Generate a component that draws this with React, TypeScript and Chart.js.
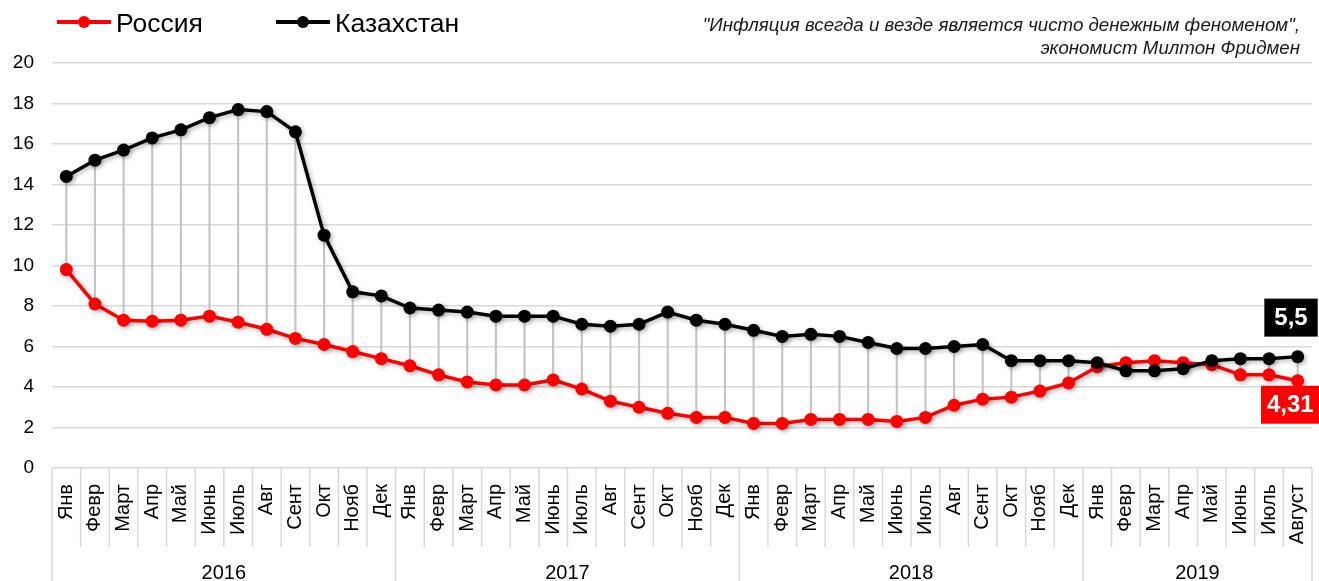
import React, { useEffect, useRef } from "react";
import { Chart, registerables } from "chart.js";

Chart.register(...registerables);

const monthsFull = ["Янв", "Февр", "Март", "Апр", "Май", "Июнь", "Июль", "Авг", "Сент", "Окт", "Нояб", "Дек"];
const months2019 = ["Янв", "Февр", "Март", "Апр", "Май", "Июнь", "Июль", "Август"];
const years = ["2016", "2017", "2018", "2019"];
const yearLengths = [12, 12, 12, 8];
const labels = [...monthsFull, ...monthsFull, ...monthsFull, ...months2019];

const russia = [
  9.8, 8.1, 7.3, 7.25, 7.3, 7.5, 7.2, 6.85, 6.4, 6.1, 5.75, 5.4,
  5.05, 4.6, 4.25, 4.1, 4.1, 4.35, 3.9, 3.3, 3.0, 2.7, 2.5, 2.5,
  2.2, 2.2, 2.4, 2.4, 2.4, 2.3, 2.5, 3.1, 3.4, 3.5, 3.8, 4.2,
  5.0, 5.2, 5.3, 5.2, 5.1, 4.6, 4.6, 4.31,
];
const kazakhstan = [
  14.4, 15.2, 15.7, 16.3, 16.7, 17.3, 17.7, 17.6, 16.6, 11.5, 8.7, 8.5,
  7.9, 7.8, 7.7, 7.5, 7.5, 7.5, 7.1, 7.0, 7.1, 7.7, 7.3, 7.1,
  6.8, 6.5, 6.6, 6.5, 6.2, 5.9, 5.9, 6.0, 6.1, 5.3, 5.3, 5.3,
  5.2, 4.8, 4.8, 4.9, 5.3, 5.4, 5.4, 5.5,
];
const yTicks = [0, 2, 4, 6, 8, 10, 12, 14, 16, 18, 20];
const seriesNames = ["Россия", "Казахстан"];
const quoteLines = [
  "\"Инфляция всегда и везде является чисто денежным феноменом\",",
  "экономист Милтон Фридмен",
];
const lastLabels = ["4,31", "5,5"];

const FONT = "'Liberation Sans', Arial, sans-serif";
const GRID = "#d9d9d9";

const shadowPlugin = {
  id: "shadowPlugin",
  beforeDatasetDraw(chart: any, args: any) {
    const ds = chart.data.datasets[args.index];
    if (ds.type !== "line") return;
    const ctx = chart.ctx;
    ctx.save();
    ctx.shadowColor = "rgba(0,0,0,0.28)";
    ctx.shadowBlur = 4;
    ctx.shadowOffsetX = 2;
    ctx.shadowOffsetY = 2;
  },
  afterDatasetDraw(chart: any, args: any) {
    const ds = chart.data.datasets[args.index];
    if (ds.type !== "line") return;
    chart.ctx.restore();
  },
};

const axisPlugin = {
  id: "axisPlugin",
  afterDraw(chart: any) {
    const ctx = chart.ctx;
    const xs = chart.scales.x;
    const bottom = chart.chartArea.bottom;
    const h = chart.height;
    const step = xs.getPixelForValue(1) - xs.getPixelForValue(0);
    const n = labels.length;
    const yearStarts = new Set<number>();
    let acc = 0;
    yearLengths.forEach((l) => {
      yearStarts.add(acc);
      acc += l;
    });
    yearStarts.add(acc);
    ctx.save();
    ctx.strokeStyle = GRID;
    ctx.lineWidth = 1.5;
    for (let i = 0; i <= n; i++) {
      const x = xs.getPixelForValue(0) - step / 2 + i * step;
      ctx.beginPath();
      ctx.moveTo(x, bottom);
      ctx.lineTo(x, yearStarts.has(i) ? h : bottom + 79);
      ctx.stroke();
    }
    ctx.fillStyle = "#000";
    ctx.font = `20px ${FONT}`;
    ctx.textAlign = "center";
    ctx.textBaseline = "middle";
    let s = 0;
    years.forEach((y, k) => {
      const l = yearLengths[k];
      const x0 = xs.getPixelForValue(s) - step / 2;
      const x1 = xs.getPixelForValue(s + l - 1) + step / 2;
      ctx.fillText(y, (x0 + x1) / 2, bottom + 105);
      s += l;
    });
    ctx.restore();
  },
  afterDatasetsDraw(chart: any) {
    const ctx = chart.ctx;
    const last = labels.length - 1;
    const rPt = chart.getDatasetMeta(1).data[last];
    const kPt = chart.getDatasetMeta(2).data[last];
    ctx.save();
    ctx.font = `bold 24px ${FONT}`;
    ctx.textAlign = "center";
    ctx.textBaseline = "middle";
    {
      const w = ctx.measureText(lastLabels[1]).width + 20;
      const right = kPt.x + 20;
      const bottomY = kPt.y - 20;
      ctx.fillStyle = "#000";
      ctx.fillRect(right - w, bottomY - 38, w, 38);
      ctx.fillStyle = "#fff";
      ctx.fillText(lastLabels[1], right - w / 2, bottomY - 19 + 1);
    }
    {
      const w = ctx.measureText(lastLabels[0]).width + 12;
      const right = rPt.x + 22;
      const topY = rPt.y + 5;
      ctx.fillStyle = "#ff0000";
      ctx.fillRect(right - w, topY, w, 38);
      ctx.fillStyle = "#fff";
      ctx.fillText(lastLabels[0], right - w / 2, topY + 19 + 1);
    }
    ctx.restore();
  },
};

export default function App() {
  const canvasRef = useRef<HTMLCanvasElement | null>(null);

  useEffect(() => {
    document.body.style.margin = "0";
    const canvas = canvasRef.current;
    if (!canvas) return;
    const chart = new Chart(canvas, {
      type: "line",
      data: {
        labels,
        datasets: [
          {
            type: "bar",
            label: "drop",
            data: russia.map((r, i) => [Math.min(r, kazakhstan[i]), Math.max(r, kazakhstan[i])]) as any,
            backgroundColor: "#c4c4c4",
            barThickness: 1.5,
            order: 10,
          } as any,
          {
            type: "line",
            label: seriesNames[0],
            data: russia,
            borderColor: "#ff0000",
            backgroundColor: "#ff0000",
            borderWidth: 3.5,
            pointRadius: 6.5,
            pointBorderWidth: 0,
            pointBackgroundColor: "#ff0000",
            tension: 0,
            order: 2,
          },
          {
            type: "line",
            label: seriesNames[1],
            data: kazakhstan,
            borderColor: "#000",
            backgroundColor: "#000",
            borderWidth: 3.5,
            pointRadius: 6.5,
            pointBorderWidth: 0,
            pointBackgroundColor: "#000",
            tension: 0,
            order: 1,
          },
        ],
      },
      options: {
        animation: false,
        responsive: true,
        maintainAspectRatio: false,
        layout: { padding: { top: 63, right: 7, left: 0, bottom: 0 } },
        plugins: {
          legend: { display: false },
          tooltip: { enabled: false },
        },
        scales: {
          x: {
            type: "category",
            offset: true,
            grid: { display: false },
            border: { display: false },
            ticks: {
              autoSkip: false,
              minRotation: 90,
              maxRotation: 90,
              padding: 8,
              color: "#000",
              font: { family: FONT, size: 20 },
            },
            afterFit: (scale: any) => {
              scale.height = 113;
              scale.paddingLeft = 0;
              scale.paddingRight = 0;
            },
          },
          y: {
            min: 0,
            max: 20,
            afterBuildTicks: (scale: any) => {
              scale.ticks = yTicks.map((v) => ({ value: v }));
            },
            grid: { color: GRID, lineWidth: 1.5, drawTicks: false },
            border: { display: false },
            ticks: {
              padding: 18,
              color: "#000",
              font: { family: FONT, size: 19 },
            },
            afterFit: (scale: any) => {
              scale.width = 52;
            },
          },
        },
      },
      plugins: [shadowPlugin, axisPlugin],
    });
    return () => chart.destroy();
  }, []);

  const legendItem = (color: string, name: string, lineLeft: number) => (
    <div key={name}>
      <div style={{ position: "absolute", left: lineLeft, top: 20, width: 54, height: 4, background: color }} />
      <div
        style={{
          position: "absolute",
          left: lineLeft + 21,
          top: 16,
          width: 12,
          height: 12,
          borderRadius: 6,
          background: color,
        }}
      />
      <div
        style={{
          position: "absolute",
          left: lineLeft + 59,
          top: 8,
          fontFamily: FONT,
          fontSize: 26.5,
          lineHeight: "30px",
          color: "#000",
          whiteSpace: "nowrap",
        }}
      >
        {name}
      </div>
    </div>
  );

  return (
    <div style={{ position: "relative", width: 1319, height: 581 }}>
      <canvas ref={canvasRef} />
      {legendItem("#ff0000", seriesNames[0], 57)}
      {legendItem("#000000", seriesNames[1], 276)}
      <div
        style={{
          position: "absolute",
          right: 19,
          top: 13,
          textAlign: "right",
          fontFamily: FONT,
          fontStyle: "italic",
          fontSize: 18.7,
          lineHeight: "23px",
          color: "#1a1a1a",
          whiteSpace: "nowrap",
        }}
      >
        <div>{quoteLines[0]}</div>
        <div>{quoteLines[1]}</div>
      </div>
    </div>
  );
}
